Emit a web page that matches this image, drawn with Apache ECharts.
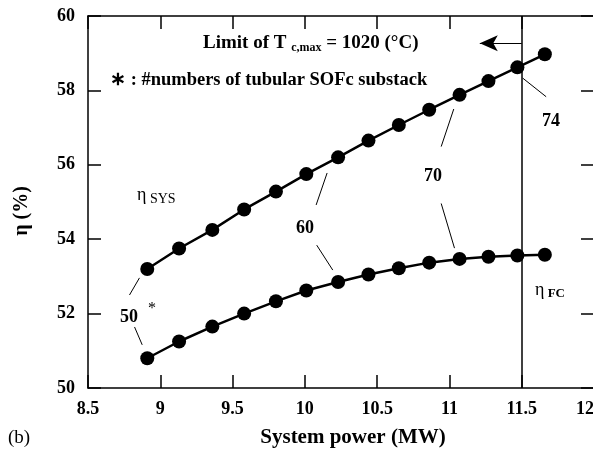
<!DOCTYPE html>
<html><head><meta charset="utf-8">
<script src="https://cdn.jsdelivr.net/npm/echarts@6/dist/echarts.min.js"></script>
<style>html,body{margin:0;padding:0;background:#fff}#c{width:593px;height:454px}</style>
</head><body><div id="c"></div>
<script>
// Data
var powerSYS = [8.91, 9.13, 9.36, 9.58, 9.80, 10.01, 10.23, 10.44, 10.65, 10.86, 11.07, 11.27, 11.47, 11.66];
var etaSYS   = [53.2, 53.75, 54.25, 54.8, 55.28, 55.75, 56.2, 56.65, 57.07, 57.48, 57.88, 58.25, 58.62, 58.97];
var powerFC  = [8.91, 9.13, 9.36, 9.58, 9.80, 10.01, 10.23, 10.44, 10.65, 10.86, 11.07, 11.27, 11.47, 11.66];
var etaFC    = [50.8, 51.25, 51.65, 52.0, 52.33, 52.62, 52.85, 53.05, 53.22, 53.37, 53.47, 53.53, 53.56, 53.58];
var xTicks = [8.5, 9, 9.5, 10, 10.5, 11, 11.5, 12];
var yTicks = [50, 52, 54, 56, 58, 60];
var tcLimit = 11.5;
// leader lines for substack count labels: [[x1,y1],[x2,y2]] in data units
var leaders = [
  [[8.787, 52.50], [8.856, 52.96]],
  [[8.822, 51.64], [8.875, 51.16]],
  [[10.154, 55.78], [10.078, 54.92]],
  [[10.082, 53.84], [10.193, 53.17]],
  [[11.030, 57.50], [10.943, 56.49]],
  [[10.943, 54.96], [11.035, 53.76]],
  [[11.507, 58.33], [11.669, 57.83]]
];
var countLabels = ['50', '60', '70', '74'];

function pairs(xs, ys){ return xs.map(function(x,i){ return [x, ys[i]]; }); }
var FONT = '"Liberation Serif","Times New Roman",serif';
var chart = echarts.init(document.getElementById('c'));
var axisCommon = {
  axisLine: {show: true, onZero: false, lineStyle: {color: '#000', width: 1.5}},
  axisTick: {show: true, inside: true, length: 13, lineStyle: {color: '#000', width: 1.5}},
  splitLine: {show: false}
};
function xAx(pos, showLabel){
  return Object.assign({}, axisCommon, {
    type: 'value', position: pos, min: 8.5, max: 12, interval: 0.5,
    axisLabel: {show: showLabel, color: '#000', fontFamily: FONT, fontWeight: 'bold', fontSize: 18, margin: 12,
      alignMaxLabel: 'right',
      formatter: function(v){ return String(v); }}
  });
}
function yAx(pos, showLabel){
  return Object.assign({}, axisCommon, {
    type: 'value', position: pos, min: 50, max: 60, interval: 2,
    axisLabel: {show: showLabel, color: '#000', fontFamily: FONT, fontWeight: 'bold', fontSize: 18, margin: 13}
  });
}
var lineStyleBlack = {color: '#000', width: 2.5};
chart.setOption({
  animation: false,
  backgroundColor: '#fff',
  grid: {left: 88, top: 16, width: 506, height: 372, containLabel: false, outerBoundsMode: 'none'},
  xAxis: [xAx('bottom', true), xAx('top', false)],
  yAxis: [yAx('left', true), yAx('right', false)],
  series: [
    {type: 'line', data: pairs(powerSYS, etaSYS), symbol: 'circle', symbolSize: 14,
     itemStyle: {color: '#000'}, lineStyle: lineStyleBlack, z: 5,
     markLine: {silent: true, symbol: ['none', 'none'], label: {show: false},
       lineStyle: {color: '#000', width: 1.5, type: 'solid'},
       data: [{xAxis: tcLimit, lineStyle: {width: 1.5}}]}
    },
    {type: 'line', data: pairs(powerFC, etaFC), symbol: 'circle', symbolSize: 14,
     itemStyle: {color: '#000'}, lineStyle: lineStyleBlack, z: 5,
     markLine: {silent: true, symbol: ['none', 'none'], label: {show: false},
       lineStyle: {color: '#000', width: 1, type: 'solid'},
       data: leaders.map(function(l){ return [{coord: l[0]}, {coord: l[1]}]; })}
    },
    {type: 'line', data: [],
     markLine: {silent: true, symbol: ['none', 'arrow'], symbolSize: [12, 18], label: {show: false},
       lineStyle: {color: '#000', width: 1.2, type: 'solid'},
       data: [[{coord: [tcLimit, 59.27]}, {coord: [11.21, 59.27]}]]}
    }
  ],
  graphic: [
    {type: 'text', left: 203, top: 34, style: {
      text: '{b|Limit of T }{s|c,max}{b| = 1020 (°C)}',
      rich: {
        b: {fontFamily: FONT, fontWeight: 'bold', fontSize: 19, fill: '#000'},
        s: {fontFamily: FONT, fontWeight: 'bold', fontSize: 12, fill: '#000', padding: [9, 0, 0, 0]}
      }}},
    {type: 'text', left: 110, top: 71, style: {
      text: '∗ : #numbers of tubular SOFc substack', font: 'bold 18.5px ' + FONT, fill: '#000'}},
    {type: 'text', left: 137, top: 186, style: {
      text: '{e|η}{s| SYS}',
      rich: {e: {fontFamily: FONT, fontSize: 18, fill: '#000'},
             s: {fontFamily: FONT, fontSize: 14, fill: '#000', padding: [8, 0, 0, 0]}}}},
    {type: 'text', left: 535, top: 281, style: {
      text: '{e|η}{s| FC}',
      rich: {e: {fontFamily: FONT, fontSize: 18, fill: '#000'},
             s: {fontFamily: FONT, fontWeight: 'bold', fontSize: 13, fill: '#000', padding: [8, 0, 0, 0]}}}},
    {type: 'text', x: 129, y: 317, style: {text: countLabels[0], font: 'bold 18px ' + FONT, fill: '#000', align: 'center', verticalAlign: 'middle'}},
    {type: 'text', x: 152, y: 309, style: {text: '*', font: '16px ' + FONT, fill: '#000', align: 'center', verticalAlign: 'middle'}},
    {type: 'text', x: 305, y: 228, style: {text: countLabels[1], font: 'bold 18px ' + FONT, fill: '#000', align: 'center', verticalAlign: 'middle'}},
    {type: 'text', x: 433, y: 176, style: {text: countLabels[2], font: 'bold 18px ' + FONT, fill: '#000', align: 'center', verticalAlign: 'middle'}},
    {type: 'text', x: 551, y: 121, style: {text: countLabels[3], font: 'bold 18px ' + FONT, fill: '#000', align: 'center', verticalAlign: 'middle'}},
    {type: 'text', x: 353, y: 438, style: {text: 'System power (MW)', font: 'bold 21px ' + FONT, fill: '#000', align: 'center', verticalAlign: 'middle'}},
    {type: 'text', x: 8, y: 438, style: {text: '(b)', font: '19px ' + FONT, fill: '#000', align: 'left', verticalAlign: 'middle'}},
    {type: 'text', x: 22, y: 211, rotation: Math.PI / 2, style: {text: 'η (%)', font: 'bold 20px ' + FONT, fill: '#000', align: 'center', verticalAlign: 'middle'}}
  ]
});
</script></body></html>
